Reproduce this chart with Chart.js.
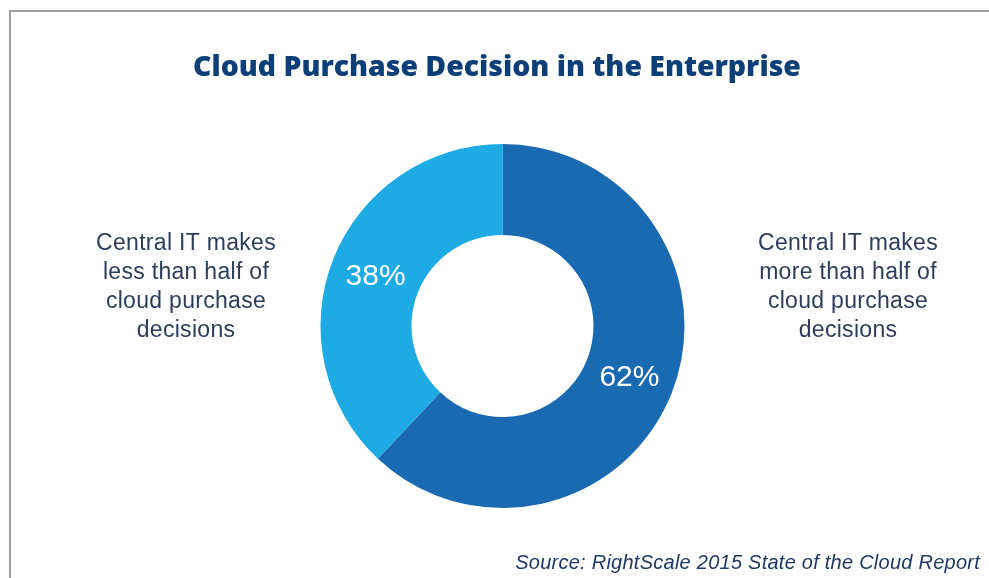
<!DOCTYPE html>
<html>
<head>
<meta charset="utf-8">
<script src="https://cdn.jsdelivr.net/npm/chart.js@4.4.1/dist/chart.umd.min.js"></script>
<style>
  html, body { margin: 0; padding: 0; background: #fff; }
  #wrap { width: 989px; height: 578px; position: relative; }
</style>
</head>
<body>
<div id="wrap"><canvas id="decisionChart"></canvas></div>
<script>
const sliceLabels = ['Central IT makes more than half of cloud purchase decisions',
                     'Central IT makes less than half of cloud purchase decisions'];
const sliceValues = [62, 38];
const sliceColors = ['#1a6ab2', '#1eaae2'];

const rightNote = ['Central IT makes', 'more than half of', 'cloud purchase', 'decisions'];
const leftNote = ['Central IT makes', 'less than half of', 'cloud purchase', 'decisions'];

const titleText = 'Cloud Purchase Decision in the Enterprise';
const sourceText = 'Source: RightScale 2015 State of the Cloud Report';

// frame, title, side notes and source line
const decorations = {
  id: 'decorations',
  beforeDraw(chart) {
    const c = chart.ctx;
    c.save();
    c.strokeStyle = '#a0a0a0';
    c.lineWidth = 2;
    c.beginPath();
    c.moveTo(10, 578);
    c.lineTo(10, 11);
    c.lineTo(989, 11);
    c.stroke();
    c.restore();
  },
  afterDraw(chart) {
    const c = chart.ctx;
    c.save();
    c.textAlign = 'center';
    c.textBaseline = 'middle';

    c.fillStyle = '#0c3f77';
    c.font = '800 28.4px "Open Sans"';
    c.fillText(titleText, 497, 68);

    c.fillStyle = '#2c3d5c';
    c.font = '23px "Liberation Sans"';
    c.letterSpacing = '0.3px';
    leftNote.forEach((t, i) => c.fillText(t, 186, 244 + i * 29));
    rightNote.forEach((t, i) => c.fillText(t, 848, 244 + i * 29));

    c.fillStyle = '#1f3864';
    c.font = 'italic 20px "Liberation Sans"';
    c.letterSpacing = '0.25px';
    c.textAlign = 'right';
    c.fillText(sourceText, 980, 563);

    // percentage labels at each arc's centre point
    c.letterSpacing = '0px';
    c.fillStyle = '#ffffff';
    c.font = '30px "Liberation Sans"';
    c.textAlign = 'center';
    chart.getDatasetMeta(0).data.forEach((arc, i) => {
      const p = arc.tooltipPosition();
      c.fillText(sliceValues[i] + '%', p.x, p.y + 1);
    });
    c.restore();
  }
};

new Chart(document.getElementById('decisionChart'), {
  type: 'doughnut',
  data: {
    labels: sliceLabels,
    datasets: [{
      data: sliceValues,
      backgroundColor: sliceColors,
      borderWidth: 0,
      hoverOffset: 0
    }]
  },
  options: {
    responsive: true,
    maintainAspectRatio: false,
    animation: false,
    cutout: '50%',
    layout: { padding: { top: 144, bottom: 70, left: 320, right: 304 } },
    plugins: {
      legend: { display: false },
      tooltip: { enabled: false }
    }
  },
  plugins: [decorations]
});
</script>
</body>
</html>
